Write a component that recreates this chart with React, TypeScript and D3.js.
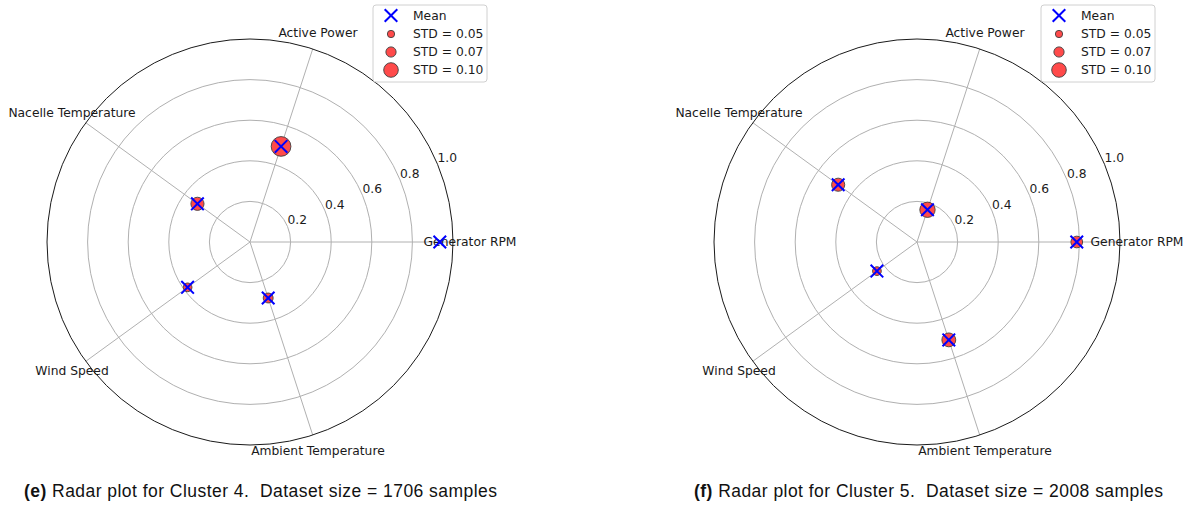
import React from "react";
import * as d3 from "d3";

const categories = ["Generator RPM", "Active Power", "Nacelle Temperature", "Wind Speed", "Ambient Temperature"];
const cluster4Mean = [0.935, 0.495, 0.32, 0.38, 0.29];
const cluster4Std = [0.02, 0.135, 0.09, 0.06, 0.068];
const cluster5Mean = [0.787, 0.167, 0.48, 0.244, 0.507];
const cluster5Std = [0.08, 0.105, 0.09, 0.06, 0.095];
const radialTicks = [0.2, 0.4, 0.6, 0.8, 1.0];
const legendStd = [0.05, 0.07, 0.1];

const width = 1192;
const height = 506;
const R = 203;
const font = "DejaVu Sans, sans-serif";
const fs = 12.3;

// радиус точки пропорционален std
const sizeScale = d3.scaleLinear().domain([0, 0.1]).range([0, 7.3]);
const rScale = d3.scaleLinear().domain([0, 1]).range([0, R]);
const angle = d3
  .scaleLinear()
  .domain([0, categories.length])
  .range([0, 2 * Math.PI]);

const polar = (r: number, a: number): [number, number] => [r * Math.cos(a), -r * Math.sin(a)];

const XMark = ({ x, y, s = 6.3 }: { x: number; y: number; s?: number }) => (
  <path
    d={`M${x - s},${y - s}L${x + s},${y + s}M${x - s},${y + s}L${x + s},${y - s}`}
    stroke="#0000ff"
    strokeWidth={2}
    fill="none"
  />
);

const Dot = ({ x, y, std }: { x: number; y: number; std: number }) => (
  <circle cx={x} cy={y} r={sizeScale(std)} fill="#ff4a4a" stroke="#404040" strokeWidth={0.9} />
);

const Radar = ({
  cx,
  cy,
  means,
  stds,
  legendX,
}: {
  cx: number;
  cy: number;
  means: number[];
  stds: number[];
  legendX: number;
}) => {
  const labelAngle = (22.5 * Math.PI) / 180;
  return (
    <g>
      <g transform={`translate(${cx},${cy})`}>
        {radialTicks.slice(0, -1).map((t) => (
          <circle key={t} r={rScale(t)} fill="none" stroke="#b0b0b0" strokeWidth={1} />
        ))}
        {categories.map((c, i) => {
          const [x, y] = polar(rScale(1), angle(i));
          return <line key={c} x1={0} y1={0} x2={x} y2={y} stroke="#b0b0b0" strokeWidth={1} />;
        })}
        <circle r={rScale(1)} fill="none" stroke="#1a1a1a" strokeWidth={1} />
        {radialTicks.map((t) => {
          const [x, y] = polar(rScale(t), labelAngle);
          return (
            <text key={t} x={x} y={y - 2} fontSize={fs} fontFamily={font} fill="#1a1a1a">
              {t.toFixed(1)}
            </text>
          );
        })}
        {categories.map((c, i) => {
          const [x, y] = polar(rScale(1) + 17, angle(i));
          return (
            <text
              key={c}
              x={x}
              y={y}
              fontSize={fs}
              fontFamily={font}
              fill="#1a1a1a"
              textAnchor="middle"
              dominantBaseline="central"
            >
              {c}
            </text>
          );
        })}
        {means.map((m, i) => {
          const [x, y] = polar(rScale(m), angle(i));
          return <Dot key={"d" + i} x={x} y={y} std={stds[i]} />;
        })}
        {means.map((m, i) => {
          const [x, y] = polar(rScale(m), angle(i));
          return <XMark key={"x" + i} x={x} y={y} />;
        })}
      </g>
      <g transform={`translate(${legendX},5)`}>
        <rect x={0} y={0} width={114} height={77} rx={3} fill="white" stroke="#d0d0d0" strokeWidth={1} />
        <XMark x={18} y={10.5} />
        <text x={40} y={10.5} fontSize={fs} fontFamily={font} fill="#1a1a1a" dominantBaseline="central">
          Mean
        </text>
        {legendStd.map((s, i) => (
          <g key={s}>
            <Dot x={18} y={29 + i * 18} std={s} />
            <text x={40} y={29 + i * 18} fontSize={fs} fontFamily={font} fill="#1a1a1a" dominantBaseline="central">
              {`STD = ${s.toFixed(2)}`}
            </text>
          </g>
        ))}
      </g>
    </g>
  );
};

const Caption = ({ x, w, tag, rest }: { x: number; w: number; tag: string; rest: string }) => (
  <text
    x={x}
    y={497}
    fontSize={17.5}
    fontFamily="Liberation Sans, Arial, sans-serif"
    fill="#111"
    style={{ whiteSpace: "pre" }}
    textLength={w}
    lengthAdjust="spacing"
  >
    <tspan fontWeight="bold">{tag}</tspan>
    <tspan>{rest}</tspan>
  </text>
);

export default function App() {
  return (
    <svg width={width} height={height} style={{ position: "absolute", left: 0, top: 0, background: "white" }}>
      <Radar cx={250} cy={242} means={cluster4Mean} stds={cluster4Std} legendX={373} />
      <Radar cx={917} cy={242} means={cluster5Mean} stds={cluster5Std} legendX={1041} />
      <Caption x={24} w={473} tag="(e)" rest=" Radar plot for Cluster 4.  Dataset size = 1706 samples" />
      <Caption x={694} w={469} tag="(f)" rest=" Radar plot for Cluster 5.  Dataset size = 2008 samples" />
    </svg>
  );
}
